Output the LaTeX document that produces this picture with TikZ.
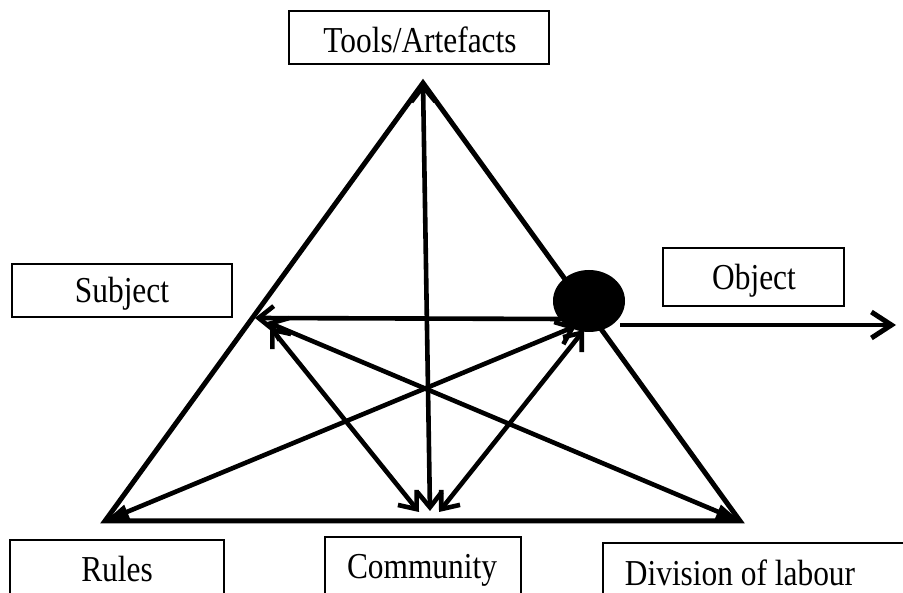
\documentclass[tikz,border=0pt]{standalone}
\usepackage{fontspec}
\setmainfont{Liberation Serif}[FakeStretch=0.86]
\usetikzlibrary{arrows.meta,shapes.geometric}
\begin{document}
\begin{tikzpicture}[x=1pt,y=-1pt,
  labelbox/.style={draw, line width=1.6pt, inner sep=0pt},
  labeltext/.style={inner sep=0pt, anchor=base, font=\fontsize{36.5}{42}\selectfont},
  side/.style={line width=5pt, line join=miter},
  barb/.tip={Straight Barb[length=15pt,width=24pt,line width=4.6pt]},
  bigbarb/.tip={Straight Barb[length=20pt,width=26pt,line width=5pt]},
  wedge/.tip={Triangle[length=24pt,width=14pt]},
  link/.style={line width=4.6pt, barb-barb},
  cornerlink/.style={line width=4.6pt, wedge-barb},
  onelink/.style={line width=4.6pt, -barb},
]
\useasboundingbox (0,0) rectangle (903,593);
\fill[white] (0,0) rectangle (903,593);
\clip (0,0) rectangle (903,593);

% corners of the activity triangle and the end points of the links
\coordinate (T) at (423,83);
\coordinate (L) at (105,521);
\coordinate (R) at (740,521);
\coordinate (S) at (255,318);
\coordinate (Sb) at (267,322);
\coordinate (Sc) at (270,327);
\coordinate (Cl) at (419,512);
\coordinate (Cv) at (430,511);
\coordinate (Cr) at (439,512);
\coordinate (Eh) at (565,319);
\coordinate (Ea) at (576,326);
\coordinate (Ed) at (584,330);
\coordinate (Eo) at (620,325);
\coordinate (Oe) at (896,325);

% label boxes
\node[labelbox, minimum width=260pt, minimum height=53pt] (toolsbox) at (419,37.5) {};
\node[labelbox, minimum width=220pt, minimum height=53pt] (subjectbox) at (122,290.5) {};
\node[labelbox, minimum width=181pt, minimum height=58pt] (objectbox) at (753.5,277) {};
\draw[line width=1.6pt] (10,610) |- (224,540) -- (224,610);
\draw[line width=1.6pt] (325,610) |- (521,537) -- (521,610);
\draw[line width=1.6pt] (603,610) |- (910,543);

\node[labeltext] (tools) at (420,53) {Tools/Artefacts};
\node[labeltext] (subject) at (122,303) {Subject};
\node[labeltext] (object) at (754,290) {Object};
\node[labeltext] (rules) at (117,581) {Rules};
\node[labeltext] (community) at (422,578) {Community};
\node[labeltext] (division) at (740,585) {Division of labour};

% triangle
\draw[side] (L) -- (T) -- (R) -- cycle;

% object marker
\node[ellipse, fill=black, minimum width=72pt, minimum height=62pt, inner sep=0pt] (E) at (589,301) {};

% links
\draw[link] (T) -- (Cv);
\draw[onelink] (Eh) -- (S);
\draw[cornerlink] (L) -- (Ea);
\draw[cornerlink] (R) -- (Sb);
\draw[link] (Sc) -- (Cl);
\draw[link] (Ed) -- (Cr);
\draw[line width=4.6pt, -bigbarb] (Eo) -- (Oe);
\end{tikzpicture}
\end{document}
